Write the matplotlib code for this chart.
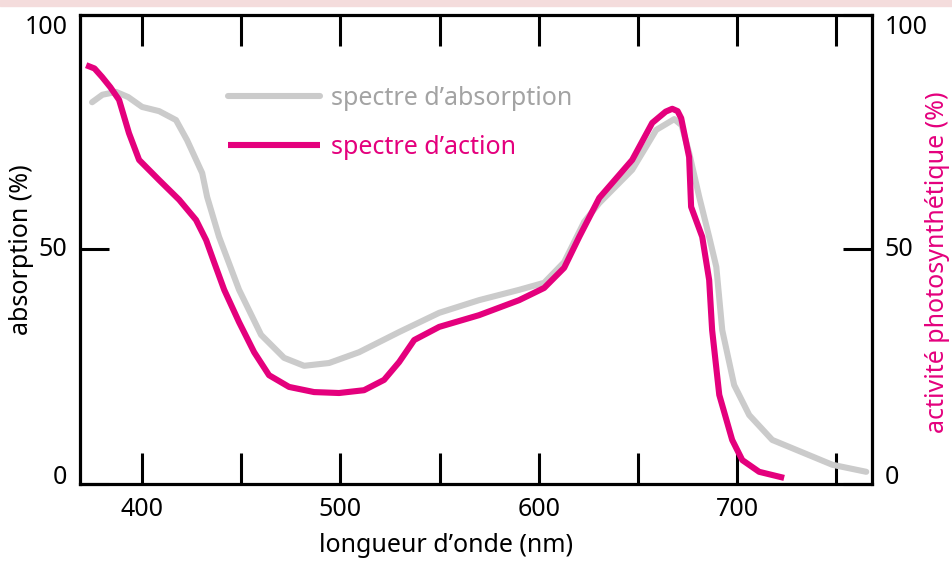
import numpy as np
import matplotlib.pyplot as plt
from matplotlib.patches import Rectangle
from matplotlib.ticker import FixedLocator

plt.rcParams['font.family'] = ['Noto Sans', 'DejaVu Sans']

# absorption spectrum (grey), wavelength in nm / absorption in %
abs_nm = [374.8, 380.0, 386.9, 393.0, 400.0, 408.6, 417.1, 422.7, 430.3, 432.8,
          438.8, 448.9, 460.0, 471.6, 481.7, 494.3, 509.4, 529.6, 549.8, 569.9,
          590.1, 602.7, 612.8, 622.9, 630.5, 647.1, 659.2, 668.3, 672.0, 675.8,
          680.9, 685.9, 689.5, 692.5, 698.5, 706.1, 717.7, 748.0, 765.1]
abs_pct = [81.4, 83.0, 83.6, 82.5, 80.4, 79.5, 77.6, 73.3, 66.3, 61.2,
           52.7, 41.4, 31.8, 26.9, 25.2, 25.8, 28.1, 32.4, 36.5, 39.2,
           41.4, 42.9, 47.3, 55.9, 59.9, 67.0, 75.5, 77.8, 76.5, 70.6,
           61.2, 52.7, 46.3, 32.8, 21.1, 14.7, 9.4, 4.1, 2.6]

# action spectrum (magenta), photosynthetic activity in %
act_nm = [371.8, 376.0, 379.8, 384.0, 388.4, 393.4, 398.5, 408.6, 418.7, 427.2,
          432.3, 436.3, 441.4, 448.9, 456.5, 464.0, 474.1, 486.7, 499.3, 511.9,
          522.0, 529.6, 537.2, 549.8, 569.9, 590.1, 602.7, 612.8, 620.4, 630.5,
          647.1, 657.2, 664.0, 667.3, 670.0, 671.8, 675.8, 676.8, 682.4, 685.9,
          687.4, 691.0, 697.5, 702.6, 711.1, 723.7]
act_pct = [89.3, 88.6, 86.8, 84.6, 81.9, 74.8, 69.1, 64.8, 60.6, 56.3,
           52.0, 47.3, 41.4, 34.5, 28.1, 23.2, 20.7, 19.6, 19.4, 20.0,
           22.2, 26.0, 30.7, 33.5, 36.0, 39.2, 41.8, 46.1, 52.7, 61.0,
           69.1, 77.0, 79.4, 80.0, 79.5, 78.0, 69.7, 59.1, 52.7, 43.5,
           32.8, 19.0, 9.4, 5.1, 2.6, 1.3]

x_ticks = [400, 450, 500, 550, 600, 650, 700, 750]
x_labels = ['400', '', '500', '', '600', '', '700', '']
y_ticks = [0, 50, 100]
y_labels = ['0', '50', '100']

GREY = '#cbcbcb'
GREY_TXT = '#a3a3a3'
MAGENTA = '#e4007d'
FS = 18

fig = plt.figure(figsize=(9.52, 5.64), dpi=100)
fig.patches.append(Rectangle((0, 1 - 6 / 564), 1, 6 / 564, transform=fig.transFigure,
                             color='#f4dcdc', zorder=0))
ax = fig.add_axes([80 / 952, 80 / 564, 792 / 952, 469 / 564])

ax.plot(abs_nm, abs_pct, color=GREY, lw=4.4, solid_capstyle='round',
        solid_joinstyle='round', label="spectre d\u2019absorption")
ax.plot(act_nm, act_pct, color=MAGENTA, lw=4.4, solid_capstyle='butt',
        solid_joinstyle='round', label="spectre d\u2019action")

ax.set_xlim(368.7, 768)
ax.set_ylim(0, 100)
for s in ax.spines.values():
    s.set_linewidth(2.3)

ax.xaxis.set_major_locator(FixedLocator(x_ticks))
ax.set_xticklabels(x_labels)
ax.tick_params(axis='x', direction='in', length=22, width=2.2, top=True,
               labelsize=FS, pad=9)
ax.yaxis.set_major_locator(FixedLocator(y_ticks))
ax.set_yticklabels(y_labels)
ax.tick_params(axis='y', direction='in', length=21, width=2.2, left=True,
               right=True, labelleft=True, labelright=True, labelsize=FS, pad=9)

# end labels sit inside the frame height
for tick in ax.yaxis.get_major_ticks():
    va = {0: 'baseline', 50: 'center', 100: 'top'}[tick.get_loc()]
    tick.label1.set_va(va)
    tick.label2.set_va(va)

ax.set_xlabel("longueur d\u2019onde (nm)", fontsize=FS)
ax.xaxis.set_label_coords((446 - 80) / 792, -(545 - 484) / 469)
ax.xaxis.label.set_va('center')
ax.set_ylabel("absorption (%)", fontsize=FS)
ax.yaxis.set_label_coords(-(80 - 22) / 792, 0.5)
ax.yaxis.label.set_va('center')

fig.text(937 / 952, 1 - 262 / 564, "activit\u00e9 photosynth\u00e9tique (%)",
         rotation=90, color=MAGENTA, fontsize=FS, ha='center', va='center')

ax.legend(loc='upper left', bbox_to_anchor=((228 - 80) / 792, (484 - 86) / 469),
          frameon=False, fontsize=FS, handlelength=3.68, handletextpad=0.44,
          labelspacing=0.95, borderpad=0, borderaxespad=0,
          labelcolor=[GREY_TXT, MAGENTA])

fig.savefig('out.png', dpi=100)
